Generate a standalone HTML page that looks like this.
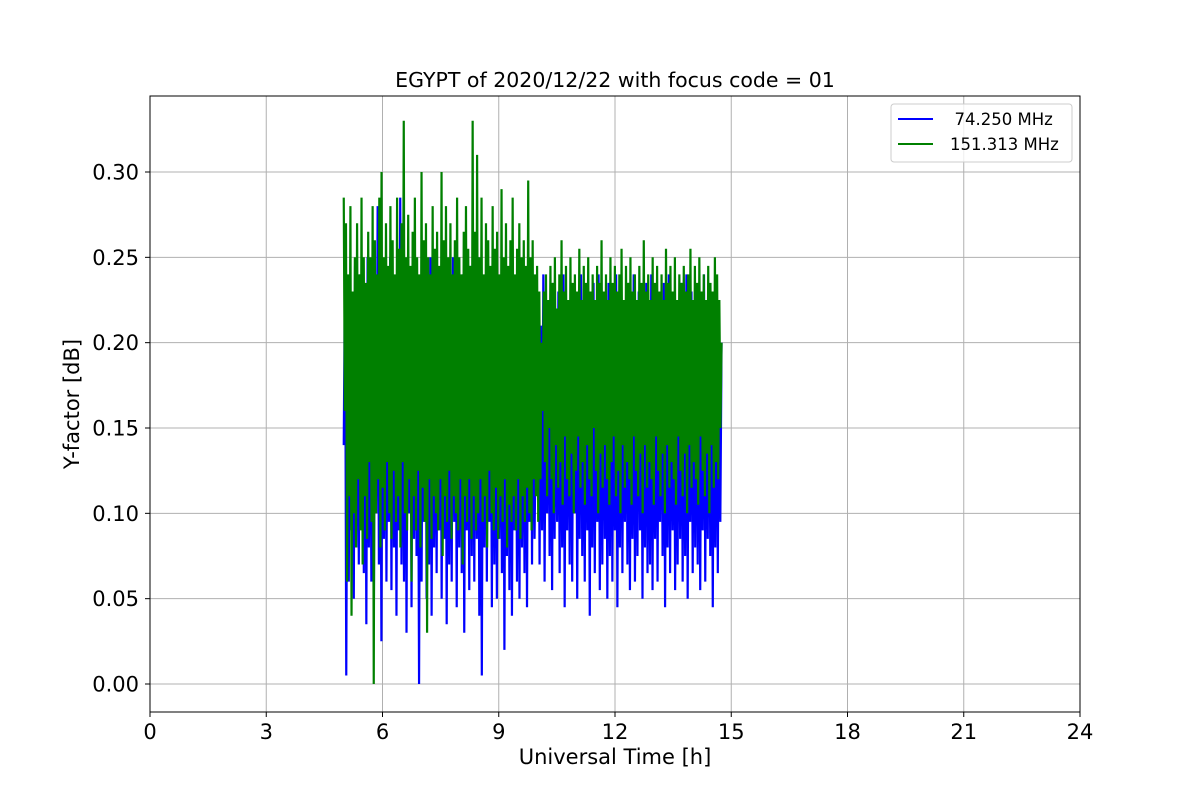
<!DOCTYPE html>
<html><head><meta charset="utf-8"><style>
body{margin:0;background:#fff;}
svg{display:block;font-family:"DejaVu Sans","Liberation Sans",sans-serif;}
</style></head><body>
<svg id="chart" width="1200" height="800">
<rect width="1200" height="800" fill="#fff"/>
<g id="grid"></g>
<g id="series"></g>
<rect x="150" y="96" width="930" height="616" fill="none" stroke="#000" stroke-width="1"/>
<g id="ticks"></g>
<text x="615" y="87" text-anchor="middle" font-size="20.5">EGYPT of 2020/12/22 with focus code = 01</text>
<text x="615" y="764" text-anchor="middle" font-size="21">Universal Time [h]</text>
<text transform="translate(79,404) rotate(-90)" text-anchor="middle" font-size="21">Y-factor [dB]</text>
<g>
<rect x="891" y="104" width="181" height="58" rx="3" fill="#fff" fill-opacity="0.8" stroke="#ccc"/>
<g><line x1="898" y1="119" x2="933" y2="119" stroke="#0000ff" stroke-width="2"/><text x="944" y="125" font-size="16.5" xml:space="preserve">  74.250 MHz</text></g>
<g><line x1="898" y1="144" x2="933" y2="144" stroke="#008000" stroke-width="2"/><text x="950" y="150" font-size="16.5">151.313 MHz</text></g>
</g>
</svg>
<script>
const xTicks=[0,3,6,9,12,15,18,21,24];
const yTicks=[0,0.05,0.10,0.15,0.20,0.25,0.30];
const tStart=5.0, tEnd=14.75;
const blueVals=[140,250,5,200,60,230,90,210,50,245,80,220,70,240,100,200,65,230,35,250,80,215,60,240,45,225,100,280,70,230,25,220,85,240,60,205,95,250,55,230,80,210,40,235,90,285,70,220,60,240,30,225,100,200,45,230,85,245,75,215,0,235,60,210,95,240,50,225,70,250,40,220,80,205,65,240,90,230,50,215,85,245,35,230,70,220,60,250,95,210,45,235,80,225,65,240,30,215,90,230,55,245,75,220,60,235,85,250,40,210,5,230,80,240,60,215,95,225,45,245,70,220,50,235,85,210,65,240,20,230,75,220,55,245,40,215,90,230,60,225,50,240,80,210,65,235,45,220,95,230,70,225,85,150,
120,230,70,210,90,240,60,200,100,225,75,215,55,235,85,205,95,230,65,220,80,240,45,210,90,225,70,235,60,215,100,230,50,220,85,240,75,205,60,230,90,215,40,225,80,235,65,210,95,240,55,220,70,230,85,215,50,235,75,225,60,210,90,240,45,220,80,230,65,215,95,225,70,235,55,210,85,240,60,220,75,230,90,215,50,225,80,235,65,210,70,240,55,220,85,230,60,215,95,225,75,235,45,210,80,240,65,220,90,230,55,215,70,225,85,235,60,210,75,240,50,220,95,230,65,215,80,225,70,235,55,210,90,240,60,220,85,230,75,215,45,225,80,235,65,210,95,200];
const greenVals=[285,160,270,60,240,110,280,40,230,100,250,80,270,120,240,90,285,70,250,110,235,85,265,130,250,95,280,0,260,100,240,120,285,80,300,115,250,90,270,130,245,100,280,85,260,125,240,95,285,110,255,80,270,130,330,100,250,90,275,120,245,60,265,110,285,90,250,125,240,80,300,115,260,95,270,30,250,120,240,85,280,110,255,100,265,90,245,120,300,75,260,110,280,95,250,125,270,85,240,110,260,100,285,90,250,120,240,70,265,110,280,95,255,120,245,85,330,110,265,90,310,100,250,120,285,95,240,110,270,80,260,125,245,100,280,90,255,115,265,85,240,110,290,95,250,120,270,80,245,105,260,95,285,110,240,90,255,120,270,85,250,110,260,95,245,115,295,100,250,90,260,120,240,110,245,95,230,120,200,160,
230,130,240,110,225,150,245,120,235,100,250,140,220,115,240,130,260,105,230,145,245,120,225,110,250,135,235,100,240,125,230,145,255,115,225,130,245,105,235,140,250,120,230,110,240,150,225,125,245,100,235,135,260,115,230,140,240,120,225,105,250,130,235,145,245,110,230,125,240,100,255,140,225,115,245,130,235,120,250,105,230,145,240,125,225,110,245,135,235,100,260,140,230,115,240,130,225,120,250,105,235,145,245,125,230,110,240,135,225,100,255,140,235,115,245,130,230,120,250,105,225,145,240,125,235,110,245,135,230,100,240,140,255,115,225,130,245,120,235,105,250,145,230,125,240,110,225,135,245,100,235,140,230,115,250,130,240,120,225,150,200];
const NS="http://www.w3.org/2000/svg";
function xs(t){return 150+t*(930/24);}
function ys(v){return 684-v*(512/0.30);}
const grid=document.getElementById('grid'),ticks=document.getElementById('ticks'),ser=document.getElementById('series');
xTicks.forEach(t=>{
 const l=document.createElementNS(NS,'line');
 
 
 l.setAttribute('x1',xs(t));l.setAttribute('x2',xs(t));l.setAttribute('y1',96);l.setAttribute('y2',712);l.setAttribute('stroke','#b0b0b0');grid.appendChild(l);
 const k=document.createElementNS(NS,'line');
 
 
 k.setAttribute('x1',xs(t));k.setAttribute('x2',xs(t));k.setAttribute('y1',712);k.setAttribute('y2',717);k.setAttribute('stroke','#000');ticks.appendChild(k);
 const tx=document.createElementNS(NS,'text');
 
 
 tx.setAttribute('x',xs(t));tx.setAttribute('y',739);tx.setAttribute('text-anchor','middle');tx.setAttribute('font-size','21');tx.textContent=t;ticks.appendChild(tx);
});
yTicks.forEach(v=>{
 const l=document.createElementNS(NS,'line');
 
 
 l.setAttribute('x1',150);l.setAttribute('x2',1080);l.setAttribute('y1',ys(v));l.setAttribute('y2',ys(v));l.setAttribute('stroke','#b0b0b0');grid.appendChild(l);
 const k=document.createElementNS(NS,'line');
 
 
 k.setAttribute('x1',145);k.setAttribute('x2',150);k.setAttribute('y1',ys(v));k.setAttribute('y2',ys(v));k.setAttribute('stroke','#000');ticks.appendChild(k);
 const tx=document.createElementNS(NS,'text');
 
 
 tx.setAttribute('x',139);tx.setAttribute('y',ys(v)+7.5);tx.setAttribute('text-anchor','end');tx.setAttribute('font-size','21');tx.textContent=v.toFixed(2);ticks.appendChild(tx);
});
function draw(vals,color,name){
 const n=vals.length;
 const pts=vals.map((v,i)=>xs(tStart+(tEnd-tStart)*i/(n-1)).toFixed(2)+','+ys(v/1000).toFixed(1)).join(' ');
 const p=document.createElementNS(NS,'polyline');
 
 
 p.setAttribute('points',pts);p.setAttribute('fill','none');p.setAttribute('stroke',color);p.setAttribute('stroke-width','2.2');p.setAttribute('stroke-linejoin','bevel');
 ser.appendChild(p);
}
draw(blueVals,'#0000ff','series-74mhz');
draw(greenVals,'#008000','series-151mhz');
</script>
</body></html>
